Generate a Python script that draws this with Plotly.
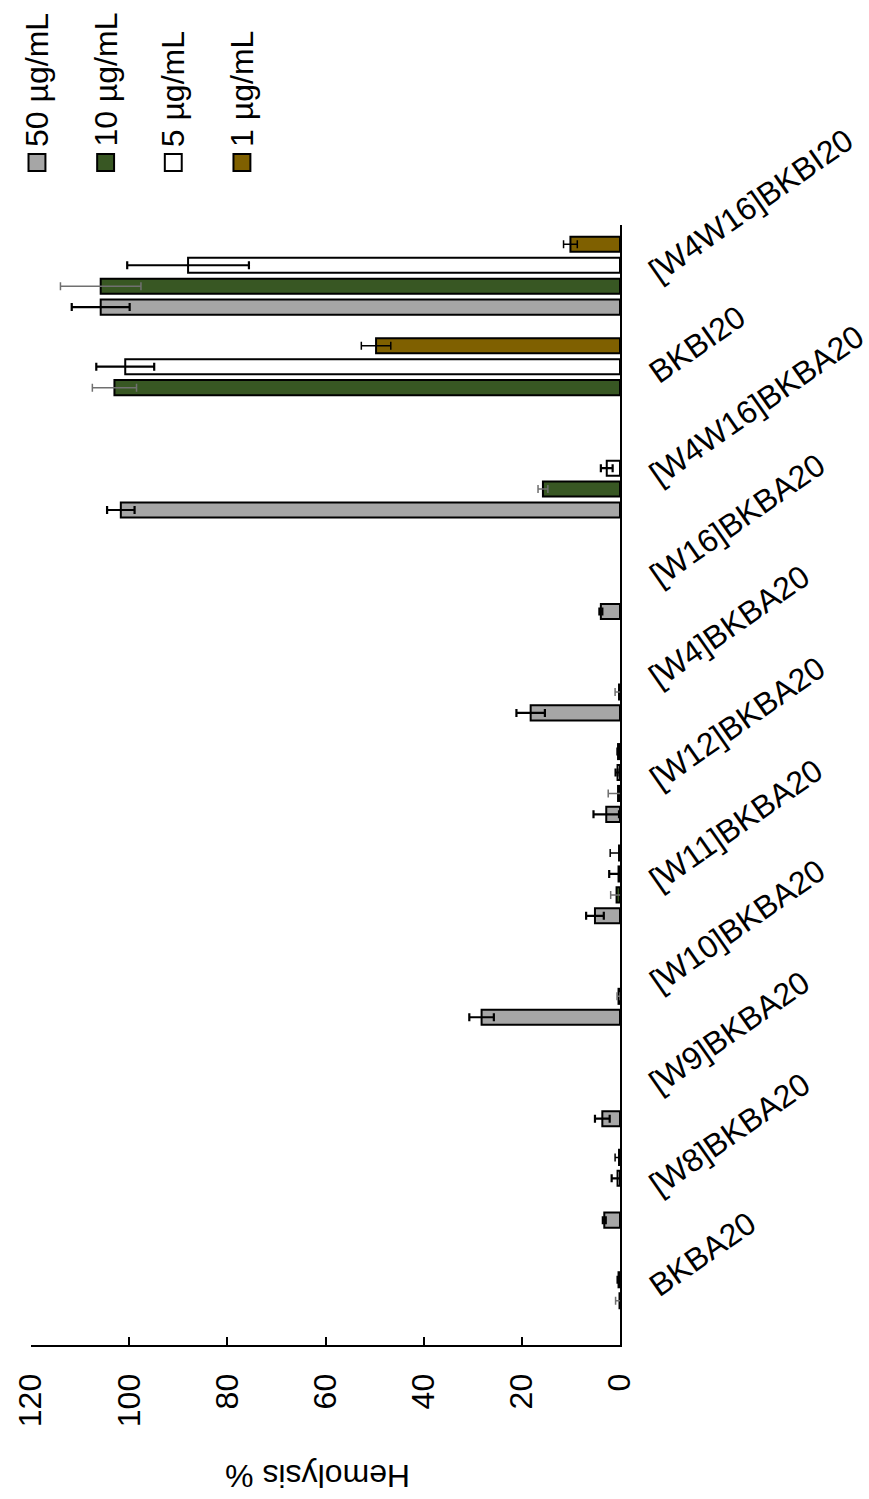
import plotly.graph_objects as go

# Peptide variants, listed bottom-to-top on the category axis
categories = ["BKBA20", "[W8]BKBA20", "[W9]BKBA20", "[W10]BKBA20", "[W11]BKBA20",
              "[W12]BKBA20", "[W4]BKBA20", "[W16]BKBA20", "[W4W16]BKBA20",
              "BKBI20", "[W4W16]BKBI20"]

series_names = ["50 µg/mL", "10 µg/mL", "5 µg/mL", "1 µg/mL"]

# Hemolysis (%) and standard deviation per concentration (None = no bar drawn)
hemo_50 = [None, 3.2, 3.6, 28.2, 5.1, 2.8, 18.2, 3.9, 101.7, None, 105.8]
err_50 = [None, 0.3, 1.5, 2.5, 1.8, 2.6, 2.9, 0.3, 2.8, None, 5.9]

hemo_10 = [0.1, None, None, 0.3, 0.7, 0.4, 0.2, None, 15.7, 103.0, 105.8]
err_10 = [0.8, None, None, 0.3, 1.2, 2.0, 0.8, None, 1.0, 4.5, 8.2]

hemo_5 = [0.3, 0.5, None, None, 0.3, 0.5, None, None, 2.7, 100.8, 88.0]
err_5 = [0.2, 1.2, None, None, 1.9, 0.4, None, None, 1.2, 5.9, 12.4]

hemo_1 = [None, 0.2, None, None, 0.2, 0.4, None, None, None, 49.7, 10.1]
err_1 = [None, 0.8, None, None, 1.8, 0.2, None, None, None, 3.0, 1.4]

x_ticks = [0, 20, 40, 60, 80, 100, 120]
axis_title = "Hemolysis %"

values = [hemo_50, hemo_10, hemo_5, hemo_1]
errors = [err_50, err_10, err_5, err_1]
fill_colors = ["#A6A6A6", "#385723", "#FFFFFF", "#7F6000"]
err_colors = ["#000000", "#707070", "#000000", "#000000"]
err_widths = [2.2, 1.5, 2.2, 1.5]

FONT = "Arial, Liberation Sans, sans-serif"
W, H = 869, 1499
ML, MR, MT, MB = 28, 249, 225, 154
PW, PH = W - ML - MR, H - MT - MB


def px_x(px):
    return (px - ML) / PW


def px_y(py):
    return (H - MB - py) / PH


fig = go.Figure()
for name, vals, errs, fc, ec, ew in zip(series_names, values, errors,
                                        fill_colors, err_colors, err_widths):
    fig.add_trace(go.Bar(
        name=name, y=categories, x=vals, orientation="h",
        marker=dict(color=fc, line=dict(color="#000000", width=2)),
        error_x=dict(type="data", array=errs, symmetric=True, visible=True,
                     color=ec, thickness=ew, width=4),
        showlegend=False,
    ))

annotations = []
for cat in categories:
    annotations.append(dict(
        x=1, xref="paper", y=cat, yref="y", text=cat, showarrow=False,
        textangle=-35, xanchor="left", yanchor="bottom", xshift=20, yshift=-16,
        font=dict(family=FONT, size=32, color="#000000"),
    ))

annotations.append(dict(
    x=px_x(316), xref="paper", y=px_y(1476), yref="paper", text=axis_title,
    showarrow=False, textangle=180, xanchor="center", yanchor="middle",
    font=dict(family=FONT, size=32, color="#000000"),
))

# Legend drawn as rotated labels with square swatches
shapes = []
legend_x = [34, 103, 171, 240]
for name, fc, lx in zip(series_names, fill_colors, legend_x):
    shapes.append(dict(
        type="rect", xref="paper", yref="paper",
        x0=px_x(lx - 8.5), x1=px_x(lx + 8.5), y0=px_y(171), y1=px_y(154),
        fillcolor=fc, line=dict(color="#000000", width=2),
    ))
    annotations.append(dict(
        x=px_x(lx), xref="paper", y=px_y(149), yref="paper", text=name,
        showarrow=False, textangle=-90, xanchor="center", yanchor="bottom",
        font=dict(family=FONT, size=32, color="#000000"),
    ))

fig.update_layout(
    width=W, height=H, autosize=False,
    margin=dict(l=ML, r=MR, t=MT, b=MB, pad=0),
    paper_bgcolor="white", plot_bgcolor="white",
    barmode="group", bargap=0.175, bargroupgap=0.28,
    annotations=annotations, shapes=shapes,
    xaxis=dict(
        range=[120, 0], tickvals=x_ticks, ticks="inside", ticklen=8,
        tickwidth=2, tickcolor="#000000", showline=True, linewidth=2,
        linecolor="#000000", showgrid=False, zeroline=False, tickangle=-90,
        tickfont=dict(family=FONT, size=32, color="#000000"),
        ticklabelstandoff=14,
    ),
    yaxis=dict(
        type="category", side="right", range=[-0.54, 10.5],
        showline=True, linewidth=2, linecolor="#000000",
        showticklabels=False, ticks="", showgrid=False, zeroline=False,
    ),
)

fig.write_html("out.html")
